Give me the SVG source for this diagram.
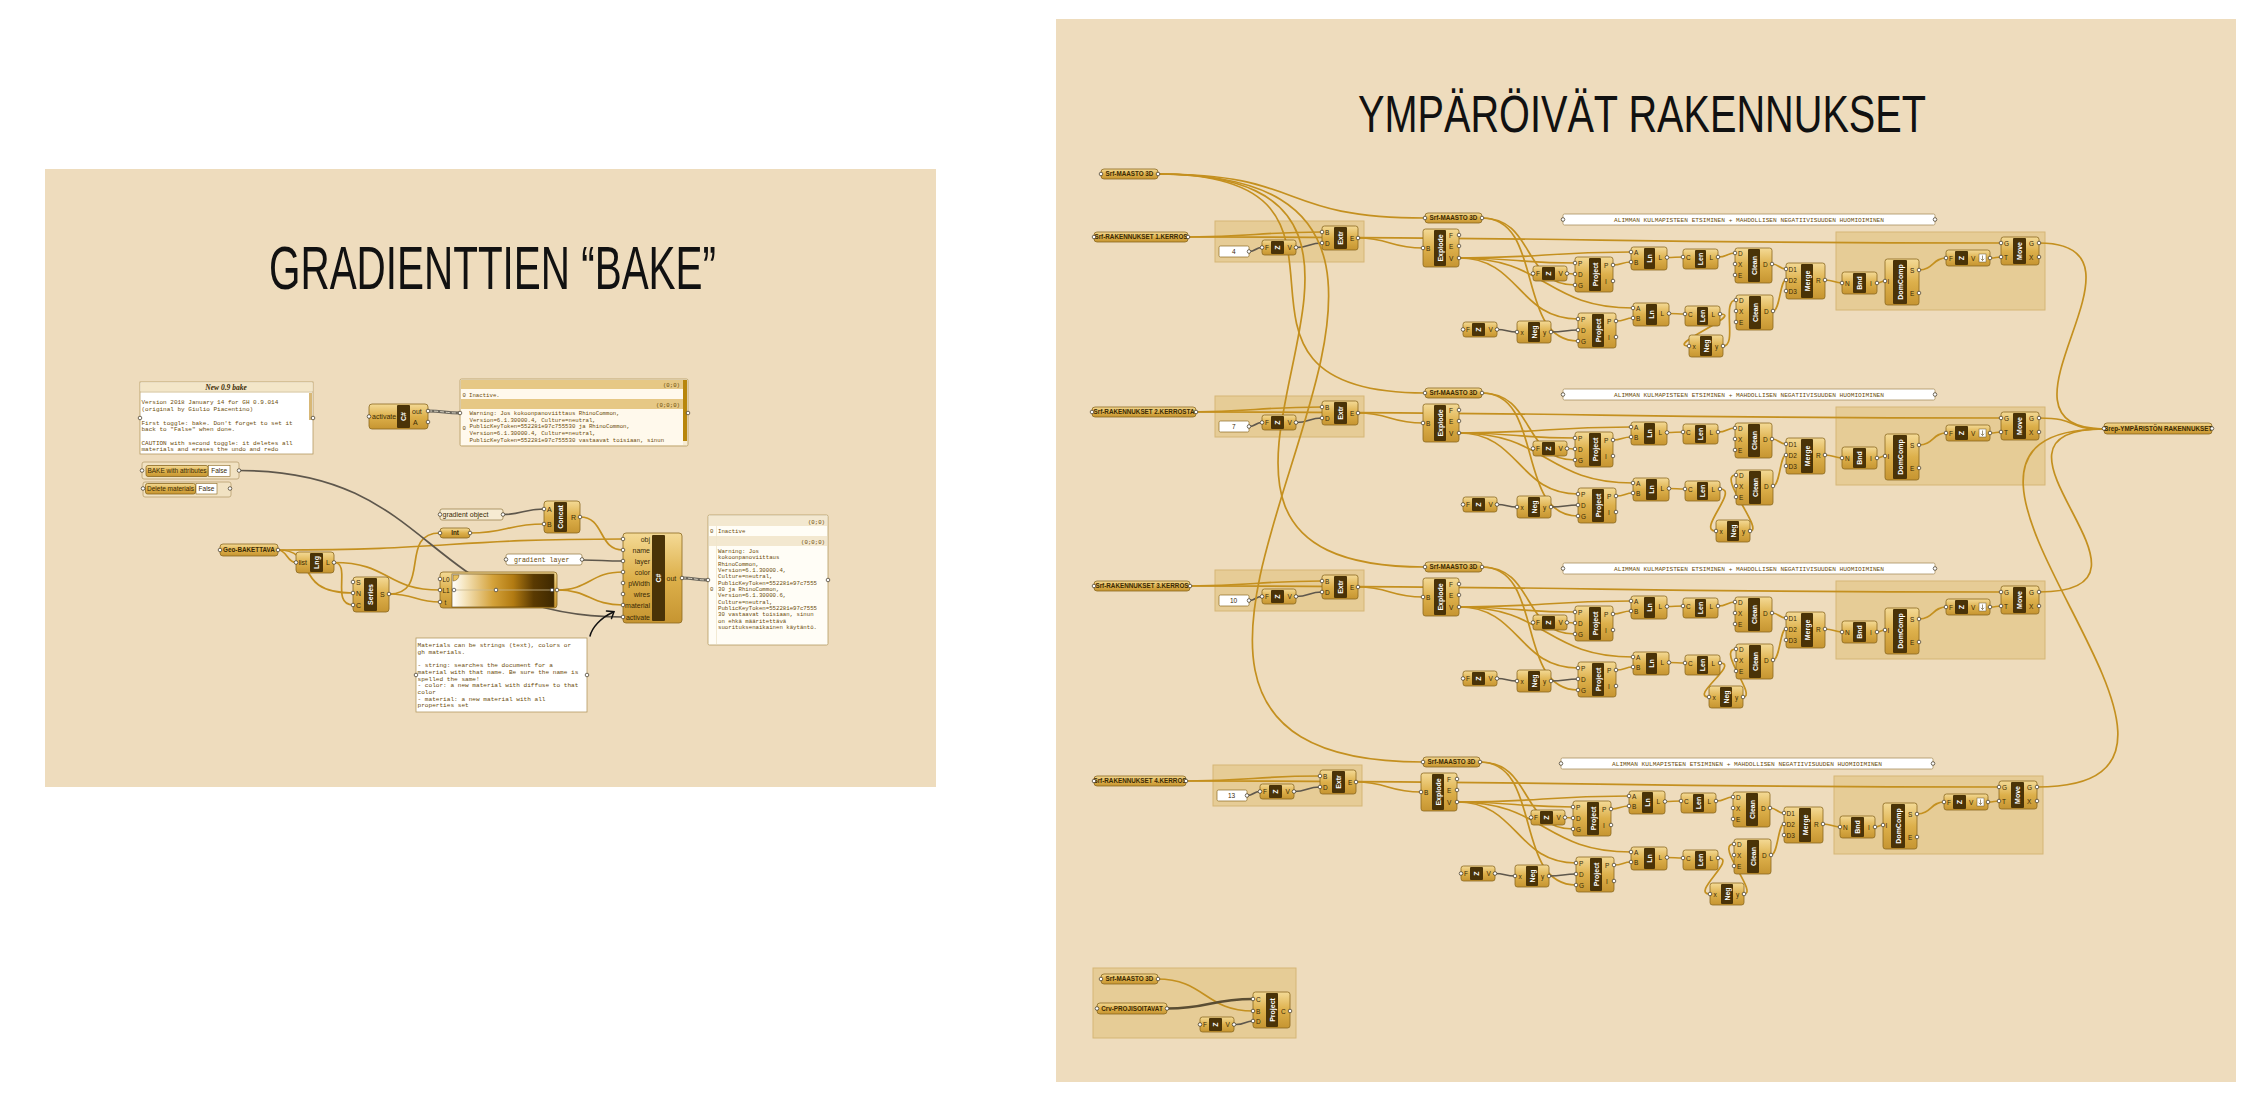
<svg xmlns="http://www.w3.org/2000/svg" xmlns:xlink="http://www.w3.org/1999/xlink" width="2259" height="1102" viewBox="0 0 2259 1102">
<style>
.bd{fill:url(#gB);stroke:#8A6820;stroke-width:.8}
.bn{fill:#4A3307}
.vn{font-family:"Liberation Sans",Arial,sans-serif;font-weight:700;font-size:7px;fill:#fff;text-anchor:middle}
.pl{font-family:"Liberation Sans",Arial,sans-serif;font-size:6.5px;fill:#3A2A05}
.pl2{font-family:"Liberation Sans",Arial,sans-serif;font-size:7px;fill:#3A2A05}
.pt{fill:#fff;stroke:#3A3020;stroke-width:.7}
.pn{font-family:"Liberation Sans",Arial,sans-serif;font-weight:700;font-size:6.3px;fill:#3A2A05;text-anchor:middle}
.w{fill:none;stroke:#C4901F;stroke-width:1.7}
.wd{fill:none;stroke:#5E574C;stroke-width:1.7}
.grp{fill:#E2C486;fill-opacity:.7;stroke:#D5B677;stroke-width:1}
.note{fill:#fff;stroke:#A89060;stroke-width:.8}
.mono{font-family:"Liberation Mono","Courier New",monospace;fill:#6B4C0A}
.ttl{font-family:"Liberation Sans",Arial,sans-serif;fill:#111}
.hdr{fill:#E6C885}
</style>
<defs>
<linearGradient id="gB" x1="0" y1="0" x2="0" y2="1"><stop offset="0" stop-color="#F4DA96"/><stop offset=".5" stop-color="#DDB04B"/><stop offset="1" stop-color="#C69531"/></linearGradient>
<linearGradient id="gGrad" x1="0" y1="0" x2="1" y2="0"><stop offset="0" stop-color="#FFFFFF"/><stop offset=".12" stop-color="#F6E6C0"/><stop offset=".4" stop-color="#D4A23A"/><stop offset=".6" stop-color="#B27B12"/><stop offset=".8" stop-color="#5A3A02"/><stop offset="1" stop-color="#3E2800"/></linearGradient>
<g id="cZ"><rect class="bd" width="34" height="15" rx="2.5"/><rect class="bn" x="9" y="1" width="13" height="13" rx="1"/><text class="vn" transform="translate(15.5 7.5) rotate(-90)" dy="2.5">Z</text><text class="pl" x="3" y="10">F</text><text class="pl" x="25.5" y="10">V</text><circle class="pt" cx="0" cy="7.5" r="1.8"/><circle class="pt" cx="34" cy="7.5" r="1.8"/></g>
<g id="cZf"><rect class="bd" width="44" height="16" rx="2.5"/><rect class="bn" x="9" y="1" width="13" height="14" rx="1"/><text class="vn" transform="translate(15.5 8) rotate(-90)" dy="2.5">Z</text><text class="pl" x="3" y="10.5">F</text><text class="pl" x="25" y="10.5">V</text><rect x="33" y="4" width="7" height="8" fill="#fff" stroke="#6B5A30" stroke-width=".5"/><path d="M36.5 5.5v5M34.8 8.8l1.7 1.7 1.7-1.7" fill="none" stroke="#5A4A20" stroke-width=".6"/><circle class="pt" cx="0" cy="8" r="1.8"/><circle class="pt" cx="44" cy="8" r="1.8"/></g>
<g id="cExtr"><rect class="bd" width="36" height="24" rx="2.5"/><rect class="bn" x="12" y="1" width="13" height="22" rx="1"/><text class="vn" transform="translate(18.5 12) rotate(-90)" dy="2.5">Extr</text><text class="pl" x="3" y="8.5">B</text><text class="pl" x="3" y="19.5">D</text><text class="pl" x="28" y="14.5">E</text><circle class="pt" cx="0" cy="6" r="1.8"/><circle class="pt" cx="0" cy="17" r="1.8"/><circle class="pt" cx="36" cy="12" r="1.8"/></g>
<g id="cExplode"><rect class="bd" width="36" height="38" rx="2.5"/><rect class="bn" x="11" y="1" width="12" height="36" rx="1"/><text class="vn" transform="translate(17 19) rotate(-90)" dy="2.5">Explode</text><text class="pl" x="3" y="21.5">B</text><text class="pl" x="26" y="8.5">F</text><text class="pl" x="26" y="19.5">E</text><text class="pl" x="26" y="31.5">V</text><circle class="pt" cx="0" cy="19" r="1.8"/><circle class="pt" cx="36" cy="6" r="1.8"/><circle class="pt" cx="36" cy="17" r="1.8"/><circle class="pt" cx="36" cy="29" r="1.8"/></g>
<g id="cProj"><rect class="bd" width="38" height="35" rx="2.5"/><rect class="bn" x="14" y="1" width="12" height="33" rx="1"/><text class="vn" transform="translate(20 17.5) rotate(-90)" dy="2.5">Project</text><text class="pl" x="3" y="8.5">P</text><text class="pl" x="3" y="19.5">D</text><text class="pl" x="3" y="30.5">G</text><text class="pl" x="29" y="10.5">P</text><text class="pl" x="30" y="26.5">I</text><circle class="pt" cx="0" cy="6" r="1.8"/><circle class="pt" cx="0" cy="17" r="1.8"/><circle class="pt" cx="0" cy="28" r="1.8"/><circle class="pt" cx="38" cy="8" r="1.8"/><circle class="pt" cx="38" cy="24" r="1.8"/></g>
<g id="cLn"><rect class="bd" width="36" height="23" rx="2.5"/><rect class="bn" x="13" y="1" width="11" height="21" rx="1"/><text class="vn" transform="translate(18.5 11.5) rotate(-90)" dy="2.5">Ln</text><text class="pl" x="3" y="7.5">A</text><text class="pl" x="3" y="17.5">B</text><text class="pl" x="27.5" y="13">L</text><circle class="pt" cx="0" cy="5" r="1.8"/><circle class="pt" cx="0" cy="15" r="1.8"/><circle class="pt" cx="36" cy="10.5" r="1.8"/></g>
<g id="cLen"><rect class="bd" width="35" height="20" rx="2.5"/><rect class="bn" x="12" y="1" width="11" height="18" rx="1"/><text class="vn" transform="translate(17.5 10) rotate(-90)" dy="2.5">Len</text><text class="pl" x="3" y="10.5">C</text><text class="pl" x="26.5" y="10.5">L</text><circle class="pt" cx="0" cy="8" r="1.8"/><circle class="pt" cx="35" cy="8" r="1.8"/></g>
<g id="cClean"><rect class="bd" width="37" height="35" rx="2.5"/><rect class="bn" x="13" y="1" width="12" height="33" rx="1"/><text class="vn" transform="translate(19 17.5) rotate(-90)" dy="2.5">Clean</text><text class="pl" x="3" y="7.5">D</text><text class="pl" x="3" y="18.5">X</text><text class="pl" x="3" y="29.5">E</text><text class="pl" x="28" y="18.5">D</text><circle class="pt" cx="0" cy="5" r="1.8"/><circle class="pt" cx="0" cy="16" r="1.8"/><circle class="pt" cx="0" cy="27" r="1.8"/><circle class="pt" cx="37" cy="16" r="1.8"/></g>
<g id="cMerge"><rect class="bd" width="39" height="36" rx="2.5"/><rect class="bn" x="15" y="1" width="12" height="34" rx="1"/><text class="vn" transform="translate(21 18) rotate(-90)" dy="2.5">Merge</text><text class="pl" x="2.5" y="8.5">D1</text><text class="pl" x="2.5" y="19.5">D2</text><text class="pl" x="2.5" y="30.5">D3</text><text class="pl" x="30" y="19.5">R</text><circle class="pt" cx="0" cy="6" r="1.8"/><circle class="pt" cx="0" cy="17" r="1.8"/><circle class="pt" cx="0" cy="28" r="1.8"/><circle class="pt" cx="39" cy="17" r="1.8"/></g>
<g id="cNeg"><rect class="bd" width="34" height="22" rx="2.5"/><rect class="bn" x="11" y="1" width="12" height="20" rx="1"/><text class="vn" transform="translate(17 11) rotate(-90)" dy="2.5">Neg</text><text class="pl" x="3.5" y="13.5">x</text><text class="pl" x="26" y="13.5">y</text><circle class="pt" cx="0" cy="11" r="1.8"/><circle class="pt" cx="34" cy="11" r="1.8"/></g>
<g id="cBnd"><rect class="bd" width="35" height="22" rx="2.5"/><rect class="bn" x="11" y="1" width="13" height="20" rx="1"/><text class="vn" transform="translate(17.5 11) rotate(-90)" dy="2.5">Bnd</text><text class="pl" x="3" y="13.5">N</text><text class="pl" x="28" y="13.5">I</text><circle class="pt" cx="0" cy="11" r="1.8"/><circle class="pt" cx="35" cy="11" r="1.8"/></g>
<g id="cDom"><rect class="bd" width="34" height="46" rx="2.5"/><rect class="bn" x="8" y="1" width="14" height="44" rx="1"/><text class="vn" transform="translate(15 23) rotate(-90)" dy="2.5">DomComp</text><text class="pl" x="2.5" y="24.5">I</text><text class="pl" x="25" y="13.5">S</text><text class="pl" x="25" y="36.5">E</text><circle class="pt" cx="0" cy="22" r="1.8"/><circle class="pt" cx="34" cy="11" r="1.8"/><circle class="pt" cx="34" cy="34" r="1.8"/></g>
<g id="cMove"><rect class="bd" width="38" height="28" rx="2.5"/><rect class="bn" x="12" y="1" width="13" height="26" rx="1"/><text class="vn" transform="translate(18.5 14) rotate(-90)" dy="2.5">Move</text><text class="pl" x="3" y="8.5">G</text><text class="pl" x="3" y="22.5">T</text><text class="pl" x="28" y="8.5">G</text><text class="pl" x="28" y="22.5">X</text><circle class="pt" cx="0" cy="6" r="1.8"/><circle class="pt" cx="0" cy="20" r="1.8"/><circle class="pt" cx="38" cy="6" r="1.8"/><circle class="pt" cx="38" cy="20" r="1.8"/></g>
<g id="pMaasto"><rect class="bd" width="57" height="10" rx="3"/><text class="pn" x="28.5" y="7.3">Srf-MAASTO 3D</text><circle class="pt" cx="0" cy="5" r="1.8"/><circle class="pt" cx="57" cy="5" r="1.8"/></g>
<g id="nAlim"><rect class="note" width="372" height="11" rx="1.5"/><text class="mono" x="186" y="7.8" font-size="5.9" text-anchor="middle" textLength="270" lengthAdjust="spacingAndGlyphs">ALIMMAN KULMAPISTEEN ETSIMINEN + MAHDOLLISEN NEGATIIVISUUDEN HUOMIOIMINEN</text><circle class="pt" cx="0" cy="5.5" r="1.8"/><circle class="pt" cx="372" cy="5.5" r="1.8"/></g>
<g id="rowW">
<path class="w" d="M1188 237C1255 237 1255 232 1322 232"/>
<path class="w" d="M1188 237C1600 237 1600 243 2001 243"/>
<path class="wd" d="M1249 251.5C1256 251.5 1255 247.5 1262 247.5"/>
<path class="wd" d="M1296 247.5C1309 247.5 1309 243 1322 243"/>
<path class="w" d="M1358 238C1390 238 1390 248 1423 248"/>
<path class="w" d="M1459 258C1545 258 1545 252 1631 252"/>
<path class="w" d="M1459 258C1517 258 1517 263 1575 263"/>
<path class="w" d="M1459 258C1520 258 1518 319 1578 319"/>
<path class="w" d="M1459 258C1546 258 1546 308 1633 308"/>
<path class="w" d="M1482 218C1535 218 1522 285 1575 285"/>
<path class="w" d="M1482 218C1545 218 1515 341 1578 341"/>
<path class="w" d="M1567 273.5C1571 273.5 1571 274 1575 274"/>
<path class="wd" d="M1497 329.5C1507 329.5 1507 332 1517 332"/>
<path class="wd" d="M1551 332C1565 332 1565 330 1578 330"/>
<path class="w" d="M1613 265C1622 265 1622 262 1631 262"/>
<path class="w" d="M1616 321C1625 321 1625 318 1633 318"/>
<path class="w" d="M1667 257.5C1675 257.5 1675 257 1683 257"/>
<path class="w" d="M1669 313.5C1677 313.5 1677 314 1685 314"/>
<path class="w" d="M1718 257C1727 257 1727 253 1735 253"/>
<path class="w" d="M1772 264C1779 264 1779 269 1786 269"/>
<path class="w" d="M1773 311C1780 311 1780 280 1786 280"/>
<path class="w" d="M1825 280C1834 280 1834 283 1842 283"/>
<path class="w" d="M1877 283C1881 283 1881 281 1885 281"/>
<path class="w" d="M1919 270C1933 270 1933 258 1946 258"/>
<path class="w" d="M1990 258C1996 258 1996 257 2001 257"/>
</g>
</defs>

<rect width="2259" height="1102" fill="#fff"/>
<rect id="panel-left" x="45" y="169" width="891" height="618" fill="#EEDCBD"/>
<rect id="panel-right" x="1056" y="19" width="1180" height="1063" fill="#EEDCBD"/>
<text class="ttl" x="269" y="289" font-size="61" textLength="447" lengthAdjust="spacingAndGlyphs">GRADIENTTIEN “BAKE”</text>
<text class="ttl" x="1358" y="132" font-size="52" textLength="568" lengthAdjust="spacingAndGlyphs">YMPÄRÖIVÄT RAKENNUKSET</text>

<g id="gh-groups">
<rect class="grp" x="1215" y="221" width="149" height="41"/>
<rect class="grp" x="1836" y="232" width="209" height="78"/>
<rect class="grp" x="1215" y="396" width="149" height="41"/>
<rect class="grp" x="1836" y="407" width="209" height="78"/>
<rect class="grp" x="1215" y="570" width="149" height="41"/>
<rect class="grp" x="1836" y="581" width="209" height="78"/>
<rect class="grp" x="1213" y="765" width="149" height="41"/>
<rect class="grp" x="1834" y="776" width="209" height="78"/>
<rect class="grp" x="1093" y="968" width="203" height="70"/>
</g>

<g id="connectors">
<g id="wires-left">
<path class="w" d="M278 550C287 550 287 562.5 296 562.5"/>
<path class="w" d="M278 550C450 550 450 539 623 539"/>
<path class="w" d="M278 550C320 550 290 593 353 593"/>
<path class="w" d="M334 562.5C352 562.5 330 605 353 605"/>
<path class="w" d="M334 562.5C390 562.5 385 590 440 590"/>
<path class="w" d="M389 594C415 594 415 602 440 602"/>
<path class="w" d="M389 594C432 594 398 533 440 533"/>
<path class="w" d="M470 533C507 533 507 524 544 524"/>
<path class="wd" d="M503 514.5C523 514.5 523 509 544 509"/>
<path class="w" d="M580 517C605 517 598 550 623 550"/>
<path class="wd" d="M582 560C602 560 602 561 623 561"/>
<path class="w" d="M557 590C590 590 590 572 623 572"/>
<path class="w" d="M557 590C590 590 590 605 623 605"/>
<path class="wd" d="M239 470.5C440 470.5 420 617 623 617"/>
<path d="M428 411C444 411 444 413 460 413" fill="none" stroke="#6A665C" stroke-width="3.2"/>
<path d="M428 411C444 411 444 413 460 413" fill="none" stroke="#D8D2C2" stroke-width="1" stroke-dasharray="4 2"/>
<path d="M682 578C695 578 695 580 708 580" fill="none" stroke="#6A665C" stroke-width="3.2"/>
<path d="M682 578C695 578 695 580 708 580" fill="none" stroke="#D8D2C2" stroke-width="1" stroke-dasharray="4 2"/>
</g>
<g id="wires-row1"><use href="#rowW"/>
<path class="w" d="M1720 314C1745 314 1664 346 1689 346"/>
<path class="w" d="M1723 346C1738 346 1721 300 1736 300"/></g>
<g id="wires-row2" transform="translate(0 175)"><use href="#rowW"/>
<path class="w" d="M1720 314C1740 314 1696 356 1716 356"/>
<path class="w" d="M1750 356C1765 356 1716 300 1736 300"/></g>
<g id="wires-row3" transform="translate(0 349)"><use href="#rowW"/>
<path class="w" d="M1720 314C1740 314 1689 348 1709 348"/>
<path class="w" d="M1743 348C1758 348 1716 300 1736 300"/></g>
<g id="wires-row4" transform="translate(-2 544)"><use href="#rowW"/>
<path class="w" d="M1720 314C1740 314 1692 350 1712 350"/>
<path class="w" d="M1746 350C1761 350 1716 300 1736 300"/></g>
<g id="wires-global">
<path class="w" d="M1158 174C1308 174 1275 218 1425 218"/>
<path class="w" d="M1158 174C1408 174 1175 393 1425 393"/>
<path class="w" d="M1158 174C1508 174 1075 567 1425 567"/>
<path class="w" d="M1158 174C1608 174 973 762 1423 762"/>
<path class="w" d="M2039 243C2169 243 1974 429 2104 429"/>
<path class="w" d="M2039 418C2080 418 2064 429 2104 429"/>
<path class="w" d="M2039 592C2189 592 1954 429 2104 429"/>
<path class="w" d="M2037 787C2287 787 1854 429 2104 429"/>
</g>
<g id="wires-bottom">
<path class="w" d="M1157 979C1205 979 1205 1011 1253 1011"/>
<path d="M1167 1008.5C1210 1008.5 1210 999 1253 999" fill="none" stroke="#5A4D33" stroke-width="2.6"/>
<path class="wd" d="M1236 1024.5C1245 1024.5 1245 1021 1253 1021"/>
</g>
</g>

<g id="nodes-left">
<g id="note-bake">
<rect x="140" y="382" width="173" height="72" fill="#fff" stroke="#B39A62" stroke-width=".8"/>
<rect x="140.5" y="382.5" width="172" height="9" fill="#F3E6C8"/>
<line x1="140" y1="392" x2="313" y2="392" stroke="#C8B07A" stroke-width=".8"/>
<text x="226" y="390" font-family="Liberation Serif" font-style="italic" font-weight="700" font-size="7.5" text-anchor="middle" fill="#3A2A05">New 0.9 bake</text>
<g class="mono" font-size="6">
<text x="141.5" y="404">Version 2018 January 14 for GH 0.9.014</text>
<text x="141.5" y="410.7">(original by Giulio Piacentino)</text>
<text x="141.5" y="424.5">First toggle: bake. Don't forget to set it</text>
<text x="141.5" y="431.2">back to "False" when done.</text>
<text x="141.5" y="444.5">CAUTION with second toggle: it deletes all</text>
<text x="141.5" y="451.2">materials and erases the undo and redo</text>
</g>
<rect x="309" y="393" width="3" height="27" fill="#D8B877"/>
<circle class="pt" cx="140" cy="418" r="1.8"/><circle class="pt" cx="313" cy="418" r="1.8"/>
</g>
<g id="toggle-bake">
<rect x="142" y="462" width="97" height="17" rx="2" fill="#F1E2C2" stroke="#B8A070" stroke-width=".8"/>
<rect x="146" y="465.5" width="62" height="11" rx="2" class="bd"/>
<text class="pl" x="177" y="473.3" text-anchor="middle">BAKE with attributes</text>
<rect x="208.5" y="465.5" width="21.5" height="11" fill="#fff" stroke="#8A6820" stroke-width=".6"/>
<text class="pl" x="219.2" y="473.3" text-anchor="middle">False</text>
<circle class="pt" cx="142" cy="470.5" r="1.8"/><circle class="pt" cx="239" cy="470.5" r="1.8"/>
</g>
<g id="toggle-delete">
<rect x="143" y="482" width="88" height="15" rx="2" fill="#F1E2C2" stroke="#B8A070" stroke-width=".8"/>
<rect x="145.5" y="483.5" width="50" height="10.5" rx="2" class="bd"/>
<text class="pl" x="170.5" y="491" text-anchor="middle">Delete materials</text>
<rect x="196" y="483.5" width="21" height="10.5" fill="#fff" stroke="#8A6820" stroke-width=".6"/>
<text class="pl" x="206.5" y="491" text-anchor="middle">False</text>
<circle class="pt" cx="143" cy="488.5" r="1.8"/><circle class="pt" cx="230" cy="488.5" r="1.8"/>
</g>
<g id="cs-activate">
<rect x="369" y="404" width="59" height="25" rx="3" class="bd"/>
<rect x="397" y="405" width="13" height="23" rx="1" class="bn"/>
<text class="vn" transform="translate(403.5 416.5) rotate(-90)" dy="2.5">C#</text>
<text class="pl2" x="372" y="419">activate</text>
<text class="pl2" x="412" y="413.5">out</text>
<text class="pl2" x="413" y="424.5">A</text>
<circle class="pt" cx="369" cy="416.5" r="1.8"/><circle class="pt" cx="428" cy="411" r="1.8"/><circle class="pt" cx="428" cy="422" r="1.8"/>
</g>
<g id="panel-warning">
<rect x="460" y="379" width="228" height="67" rx="1.5" fill="#F7ECD3" stroke="#B39A62" stroke-width=".8"/>
<rect class="hdr" x="461" y="380" width="222" height="9"/>
<rect x="461" y="389" width="222" height="10" fill="#FFF9EC"/>
<rect class="hdr" x="461" y="399" width="222" height="10"/>
<rect x="461" y="409" width="222" height="36" fill="#FFF9EC"/>
<rect x="683" y="380" width="4" height="61" fill="#B8860B"/>
<g class="mono" font-size="5.7">
<text x="680" y="387" text-anchor="end">(0;0)</text>
<text x="462.5" y="396.5">0</text><text x="469" y="396.5">Inactive.</text>
<text x="680" y="406.5" text-anchor="end">(0;0;0)</text>
<text x="469.5" y="415">Warning: Jos kokoonpanoviittaus RhinoCommon,</text>
<text x="469.5" y="421.7">Version=6.1.30000.4, Culture=neutral,</text>
<text x="462.5" y="430">0</text>
<text x="469.5" y="428.4">PublicKeyToken=552281e97c755530 ja RhinoCommon,</text>
<text x="469.5" y="435.1">Version=6.1.30000.4, Culture=neutral,</text>
<text x="469.5" y="441.8">PublicKeyToken=552281e97c755530 vastaavat toisiaan, sinun</text>
</g>
<circle class="pt" cx="460" cy="413" r="1.8"/><circle class="pt" cx="688" cy="413" r="1.8"/>
</g>
<g id="param-gradobj">
<rect x="440" y="509" width="63" height="11" rx="2" fill="#F6EBD2" stroke="#9C8450" stroke-width=".8"/>
<text class="pl2" x="442.5" y="517.3">gradient object</text>
<circle class="pt" cx="440" cy="514.5" r="1.8"/><circle class="pt" cx="503" cy="514.5" r="1.8"/>
</g>
<g id="param-int">
<rect x="440" y="528" width="30" height="10" rx="3" class="bd"/>
<text class="pn" x="455" y="535.3">Int</text>
<circle class="pt" cx="440" cy="533" r="1.8"/><circle class="pt" cx="470" cy="533" r="1.8"/>
</g>
<g id="param-geo">
<rect x="220" y="544" width="58" height="12" rx="3" class="bd"/>
<text class="pn" x="249" y="552.3">Geo-BAKETTAVA</text>
<circle class="pt" cx="220" cy="550" r="1.8"/><circle class="pt" cx="278" cy="550" r="1.8"/>
</g>
<g id="list-length">
<rect x="296" y="552" width="38" height="21" rx="3" class="bd"/>
<rect x="310" y="553" width="13" height="19" rx="1" class="bn"/>
<text class="vn" transform="translate(316.5 562.5) rotate(-90)" dy="2.5">Lng</text>
<text class="pl2" x="298.5" y="565">list</text>
<text class="pl2" x="326" y="565">L</text>
<circle class="pt" cx="296" cy="562.5" r="1.8"/><circle class="pt" cx="334" cy="562.5" r="1.8"/>
</g>
<g id="series">
<rect x="353" y="577" width="36" height="35" rx="3" class="bd"/>
<rect x="364" y="578" width="13" height="33" rx="1" class="bn"/>
<text class="vn" transform="translate(370.5 594.5) rotate(-90)" dy="2.5">Series</text>
<text class="pl2" x="356" y="584.5">S</text><text class="pl2" x="356" y="595.5">N</text><text class="pl2" x="356" y="607.5">C</text>
<text class="pl2" x="380" y="596.5">S</text>
<circle class="pt" cx="353" cy="582" r="1.8"/><circle class="pt" cx="353" cy="593" r="1.8"/><circle class="pt" cx="353" cy="605" r="1.8"/><circle class="pt" cx="389" cy="594" r="1.8"/>
</g>
<g id="gradient">
<rect x="440" y="572" width="117" height="36" rx="3" class="bd"/>
<rect x="452" y="574" width="102" height="33" fill="url(#gGrad)" stroke="#5A4010" stroke-width=".6"/>
<path d="M453 575h6a6 6 0 0 1-6 6z" fill="#E8C060" stroke="#6A5020" stroke-width=".5"/>
<line x1="454" y1="590" x2="552" y2="590" stroke="#C8B890" stroke-width=".8"/>
<circle cx="454" cy="590" r="1.8" fill="#fff" stroke="#333" stroke-width=".7"/><circle cx="496" cy="590" r="1.8" fill="#fff" stroke="#333" stroke-width=".7"/><circle cx="552" cy="590" r="1.8" fill="#fff" stroke="#333" stroke-width=".7"/>
<text class="pl" x="442.5" y="581.5">L0</text><text class="pl" x="442.5" y="592.5">L1</text><text class="pl" x="444.5" y="604.5">t</text>
<circle class="pt" cx="440" cy="579" r="1.8"/><circle class="pt" cx="440" cy="590" r="1.8"/><circle class="pt" cx="440" cy="602" r="1.8"/><circle class="pt" cx="557" cy="590" r="1.8"/>
</g>
<g id="concat">
<rect x="544" y="501" width="36" height="32" rx="3" class="bd"/>
<rect x="554" y="502" width="13" height="30" rx="1" class="bn"/>
<text class="vn" transform="translate(560.5 517) rotate(-90)" dy="2.5">Concat</text>
<text class="pl2" x="547" y="511.5">A</text><text class="pl2" x="547" y="526.5">B</text><text class="pl2" x="571" y="519.5">R</text>
<circle class="pt" cx="544" cy="509" r="1.8"/><circle class="pt" cx="544" cy="524" r="1.8"/><circle class="pt" cx="580" cy="517" r="1.8"/>
</g>
<g id="panel-gradlayer">
<rect x="506" y="554" width="76" height="11" rx="2" fill="#fff" stroke="#9C8450" stroke-width=".8"/>
<text class="mono" x="514" y="562" font-size="6.6">gradient layer</text>
<circle class="pt" cx="506" cy="559.5" r="1.8"/><circle class="pt" cx="582" cy="559.5" r="1.8"/>
</g>
<g id="cs-main">
<rect x="623" y="533" width="59" height="90" rx="3" class="bd"/>
<rect x="652" y="535" width="13" height="86" rx="1" class="bn"/>
<text class="vn" transform="translate(658.5 578) rotate(-90)" dy="2.5">C#</text>
<g class="pl2" text-anchor="end">
<text x="650" y="541.5">obj</text><text x="650" y="552.5">name</text><text x="650" y="563.5">layer</text><text x="650" y="574.5">color</text><text x="650" y="585.5">pWidth</text><text x="650" y="596.5">wires</text><text x="650" y="607.5">material</text><text x="650" y="619.5">activate</text>
</g>
<text class="pl2" x="666.5" y="580.5">out</text>
<circle class="pt" cx="623" cy="539" r="1.8"/><circle class="pt" cx="623" cy="550" r="1.8"/><circle class="pt" cx="623" cy="561" r="1.8"/><circle class="pt" cx="623" cy="572" r="1.8"/><circle class="pt" cx="623" cy="583" r="1.8"/><circle class="pt" cx="623" cy="594" r="1.8"/><circle class="pt" cx="623" cy="605" r="1.8"/><circle class="pt" cx="623" cy="617" r="1.8"/><circle class="pt" cx="682" cy="578" r="1.8"/>
</g>
<g id="panel-result">
<rect x="708" y="515" width="120" height="130" rx="1.5" fill="#FFFDF6" stroke="#B39A62" stroke-width=".8"/>
<rect x="709" y="516" width="118" height="10" fill="#F3E8D0"/>
<rect x="709" y="536" width="118" height="10" fill="#F3E8D0"/>
<line x1="716.5" y1="526" x2="716.5" y2="644" stroke="#EFE4CC" stroke-width=".8"/>
<g class="mono" font-size="5.7">
<text x="825" y="523.5" text-anchor="end">(0;0)</text>
<text x="710" y="532.5">0</text><text x="718" y="532.5">Inactive</text>
<text x="825" y="543.5" text-anchor="end">(0;0;0)</text>
<text x="718" y="553">Warning: Jos</text>
<text x="718" y="559.3">kokoonpanoviittaus</text>
<text x="718" y="565.7">RhinoCommon,</text>
<text x="718" y="572">Version=6.1.30000.4,</text>
<text x="718" y="578.3">Culture=neutral,</text>
<text x="718" y="584.7">PublicKeyToken=552281e97c7555</text>
<text x="710" y="591">0</text><text x="718" y="591">30 ja RhinoCommon,</text>
<text x="718" y="597.3">Version=6.1.30000.6,</text>
<text x="718" y="603.7">Culture=neutral,</text>
<text x="718" y="610">PublicKeyToken=552281e97c7555</text>
<text x="718" y="616.3">30 vastaavat toisiaan, sinun</text>
<text x="718" y="622.7">on ehkä määritettävä</text>
<text x="718" y="629">suorituksenaikainen käytäntö.</text>
</g>
<circle class="pt" cx="708" cy="580" r="1.8"/><circle class="pt" cx="828" cy="580" r="1.8"/>
</g>
<g id="note-materials">
<rect x="416" y="638" width="171" height="74" fill="#fff" stroke="#B39A62" stroke-width=".8"/>
<g class="mono" font-size="6.1">
<text x="417.5" y="647">Materials can be strings (text), colors or</text>
<text x="417.5" y="653.7">gh materials.</text>
<text x="417.5" y="667.1">- string: searches the document for a</text>
<text x="417.5" y="673.8">material with that name. Be sure the name is</text>
<text x="417.5" y="680.5">spelled the same!</text>
<text x="417.5" y="687.2">- color: a new material with diffuse to that</text>
<text x="417.5" y="693.9">color</text>
<text x="417.5" y="700.6">- material: a new material with all</text>
<text x="417.5" y="707.3">properties set</text>
</g>
<circle class="pt" cx="416" cy="675" r="1.8"/><circle class="pt" cx="587" cy="675" r="1.8"/>
</g>
<g id="hand-arrow" fill="none" stroke="#111" stroke-width="1.5" stroke-linecap="round">
<path d="M590 636C592 628 600 618 613.5 612"/>
<path d="M606.5 611L614 611.7L611.5 618.5"/>
</g>
</g>

<g id="nodes-right">
<g id="top-maasto"><use href="#pMaasto" x="1101" y="169"/></g>
<g id="row1">
<g id="r1-rak"><rect class="bd" x="1094" y="232" width="94" height="10" rx="3"/><text class="pn" x="1141" y="239.3">Srf-RAKENNUKSET 1.KERROS</text><circle class="pt" cx="1094" cy="237" r="1.8"/><circle class="pt" cx="1188" cy="237" r="1.8"/></g>
<g id="r1-slider"><rect x="1219" y="246" width="30" height="11" rx="1.5" fill="#fff" stroke="#8A6820" stroke-width=".7"/><text class="pl" x="1232" y="254">4</text><circle class="pt" cx="1249" cy="251.5" r="1.8"/></g>
<g id="r1-z"><use href="#cZ" x="1262" y="240"/></g>
<g id="r1-extr"><use href="#cExtr" x="1322" y="226"/></g>
<g id="r1-maasto"><use href="#pMaasto" x="1425" y="213"/></g>
<g id="r1-explode"><use href="#cExplode" x="1423" y="229"/></g>
<g id="r1-note"><use href="#nAlim" x="1563" y="214"/></g>
<g id="r1-zu"><use href="#cZ" x="1533" y="266"/></g>
<g id="r1-proj1"><use href="#cProj" x="1575" y="257"/></g>
<g id="r1-ln1"><use href="#cLn" x="1631" y="247"/></g>
<g id="r1-len1"><use href="#cLen" x="1683" y="249"/></g>
<g id="r1-clean1"><use href="#cClean" x="1735" y="248"/></g>
<g id="r1-merge"><use href="#cMerge" x="1786" y="263"/></g>
<g id="r1-zl"><use href="#cZ" x="1463" y="322"/></g>
<g id="r1-neg1"><use href="#cNeg" x="1517" y="321"/></g>
<g id="r1-proj2"><use href="#cProj" x="1578" y="313"/></g>
<g id="r1-ln2"><use href="#cLn" x="1633" y="303"/></g>
<g id="r1-len2"><use href="#cLen" x="1685" y="306"/></g>
<g id="r1-clean2"><use href="#cClean" x="1736" y="295"/></g>
<g id="r1-neg2"><use href="#cNeg" x="1689" y="335"/></g>
<g id="r1-bnd"><use href="#cBnd" x="1842" y="272"/></g>
<g id="r1-dom"><use href="#cDom" x="1885" y="259"/></g>
<g id="r1-zf"><use href="#cZf" x="1946" y="250"/></g>
<g id="r1-move"><use href="#cMove" x="2001" y="237"/></g>
</g>
<g id="row2" transform="translate(0 175)">
<g id="r2-rak"><rect class="bd" x="1092" y="232" width="104" height="10" rx="3"/><text class="pn" x="1144" y="239.3">Srf-RAKENNUKSET 2.KERROSTA</text><circle class="pt" cx="1092" cy="237" r="1.8"/><circle class="pt" cx="1196" cy="237" r="1.8"/></g>
<g id="r2-slider"><rect x="1219" y="246" width="30" height="11" rx="1.5" fill="#fff" stroke="#8A6820" stroke-width=".7"/><text class="pl" x="1232" y="254">7</text><circle class="pt" cx="1249" cy="251.5" r="1.8"/></g>
<g id="r2-z"><use href="#cZ" x="1262" y="240"/></g>
<g id="r2-extr"><use href="#cExtr" x="1322" y="226"/></g>
<g id="r2-maasto"><use href="#pMaasto" x="1425" y="213"/></g>
<g id="r2-explode"><use href="#cExplode" x="1423" y="229"/></g>
<g id="r2-note"><use href="#nAlim" x="1563" y="214"/></g>
<g id="r2-zu"><use href="#cZ" x="1533" y="266"/></g>
<g id="r2-proj1"><use href="#cProj" x="1575" y="257"/></g>
<g id="r2-ln1"><use href="#cLn" x="1631" y="247"/></g>
<g id="r2-len1"><use href="#cLen" x="1683" y="249"/></g>
<g id="r2-clean1"><use href="#cClean" x="1735" y="248"/></g>
<g id="r2-merge"><use href="#cMerge" x="1786" y="263"/></g>
<g id="r2-zl"><use href="#cZ" x="1463" y="322"/></g>
<g id="r2-neg1"><use href="#cNeg" x="1517" y="321"/></g>
<g id="r2-proj2"><use href="#cProj" x="1578" y="313"/></g>
<g id="r2-ln2"><use href="#cLn" x="1633" y="303"/></g>
<g id="r2-len2"><use href="#cLen" x="1685" y="306"/></g>
<g id="r2-clean2"><use href="#cClean" x="1736" y="295"/></g>
<g id="r2-neg2"><use href="#cNeg" x="1716" y="345"/></g>
<g id="r2-bnd"><use href="#cBnd" x="1842" y="272"/></g>
<g id="r2-dom"><use href="#cDom" x="1885" y="259"/></g>
<g id="r2-zf"><use href="#cZf" x="1946" y="250"/></g>
<g id="r2-move"><use href="#cMove" x="2001" y="237"/></g>
</g>
<g id="row3" transform="translate(0 349)">
<g id="r3-rak"><rect class="bd" x="1094" y="232" width="96" height="10" rx="3"/><text class="pn" x="1142" y="239.3">Srf-RAKENNUKSET 3.KERROS</text><circle class="pt" cx="1094" cy="237" r="1.8"/><circle class="pt" cx="1190" cy="237" r="1.8"/></g>
<g id="r3-slider"><rect x="1219" y="246" width="30" height="11" rx="1.5" fill="#fff" stroke="#8A6820" stroke-width=".7"/><text class="pl" x="1230" y="254">10</text><circle class="pt" cx="1249" cy="251.5" r="1.8"/></g>
<g id="r3-z"><use href="#cZ" x="1262" y="240"/></g>
<g id="r3-extr"><use href="#cExtr" x="1322" y="226"/></g>
<g id="r3-maasto"><use href="#pMaasto" x="1425" y="213"/></g>
<g id="r3-explode"><use href="#cExplode" x="1423" y="229"/></g>
<g id="r3-note"><use href="#nAlim" x="1563" y="214"/></g>
<g id="r3-zu"><use href="#cZ" x="1533" y="266"/></g>
<g id="r3-proj1"><use href="#cProj" x="1575" y="257"/></g>
<g id="r3-ln1"><use href="#cLn" x="1631" y="247"/></g>
<g id="r3-len1"><use href="#cLen" x="1683" y="249"/></g>
<g id="r3-clean1"><use href="#cClean" x="1735" y="248"/></g>
<g id="r3-merge"><use href="#cMerge" x="1786" y="263"/></g>
<g id="r3-zl"><use href="#cZ" x="1463" y="322"/></g>
<g id="r3-neg1"><use href="#cNeg" x="1517" y="321"/></g>
<g id="r3-proj2"><use href="#cProj" x="1578" y="313"/></g>
<g id="r3-ln2"><use href="#cLn" x="1633" y="303"/></g>
<g id="r3-len2"><use href="#cLen" x="1685" y="306"/></g>
<g id="r3-clean2"><use href="#cClean" x="1736" y="295"/></g>
<g id="r3-neg2"><use href="#cNeg" x="1709" y="337"/></g>
<g id="r3-bnd"><use href="#cBnd" x="1842" y="272"/></g>
<g id="r3-dom"><use href="#cDom" x="1885" y="259"/></g>
<g id="r3-zf"><use href="#cZf" x="1946" y="250"/></g>
<g id="r3-move"><use href="#cMove" x="2001" y="237"/></g>
</g>
<g id="row4" transform="translate(-2 544)">
<g id="r4-rak"><rect class="bd" x="1096" y="232" width="92" height="10" rx="3"/><text class="pn" x="1142" y="239.3">Srf-RAKENNUKSET 4.KERROS</text><circle class="pt" cx="1096" cy="237" r="1.8"/><circle class="pt" cx="1188" cy="237" r="1.8"/></g>
<g id="r4-slider"><rect x="1219" y="246" width="30" height="11" rx="1.5" fill="#fff" stroke="#8A6820" stroke-width=".7"/><text class="pl" x="1230" y="254">13</text><circle class="pt" cx="1249" cy="251.5" r="1.8"/></g>
<g id="r4-z"><use href="#cZ" x="1262" y="240"/></g>
<g id="r4-extr"><use href="#cExtr" x="1322" y="226"/></g>
<g id="r4-maasto"><use href="#pMaasto" x="1425" y="213"/></g>
<g id="r4-explode"><use href="#cExplode" x="1423" y="229"/></g>
<g id="r4-note"><use href="#nAlim" x="1563" y="214"/></g>
<g id="r4-zu"><use href="#cZ" x="1533" y="266"/></g>
<g id="r4-proj1"><use href="#cProj" x="1575" y="257"/></g>
<g id="r4-ln1"><use href="#cLn" x="1631" y="247"/></g>
<g id="r4-len1"><use href="#cLen" x="1683" y="249"/></g>
<g id="r4-clean1"><use href="#cClean" x="1735" y="248"/></g>
<g id="r4-merge"><use href="#cMerge" x="1786" y="263"/></g>
<g id="r4-zl"><use href="#cZ" x="1463" y="322"/></g>
<g id="r4-neg1"><use href="#cNeg" x="1517" y="321"/></g>
<g id="r4-proj2"><use href="#cProj" x="1578" y="313"/></g>
<g id="r4-ln2"><use href="#cLn" x="1633" y="303"/></g>
<g id="r4-len2"><use href="#cLen" x="1685" y="306"/></g>
<g id="r4-clean2"><use href="#cClean" x="1736" y="295"/></g>
<g id="r4-neg2"><use href="#cNeg" x="1712" y="339"/></g>
<g id="r4-bnd"><use href="#cBnd" x="1842" y="272"/></g>
<g id="r4-dom"><use href="#cDom" x="1885" y="259"/></g>
<g id="r4-zf"><use href="#cZf" x="1946" y="250"/></g>
<g id="r4-move"><use href="#cMove" x="2001" y="237"/></g>
</g>
<g id="brep-out"><rect class="bd" x="2104" y="423" width="108" height="11" rx="3"/><text class="pn" x="2158" y="430.8">Brep-YMPÄRISTÖN RAKENNUKSET</text><circle class="pt" cx="2104" cy="428.5" r="1.8"/><circle class="pt" cx="2212" cy="428.5" r="1.8"/></g>
<g id="b-maasto"><use href="#pMaasto" x="1101" y="974"/></g>
<g id="b-crv"><rect class="bd" x="1097" y="1003" width="70" height="11" rx="3"/><text class="pn" x="1132" y="1010.5">Crv-PROJISOITAVAT</text><circle class="pt" cx="1097" cy="1008.5" r="1.8"/><circle class="pt" cx="1167" cy="1008.5" r="1.8"/></g>
<g id="b-z"><use href="#cZ" x="1200" y="1017"/></g>
<g id="b-proj"><rect class="bd" x="1253" y="992" width="37" height="36" rx="2.5"/><rect class="bn" x="1266" y="993" width="12" height="34" rx="1"/><text class="vn" transform="translate(1272 1010) rotate(-90)" dy="2.5">Project</text><text class="pl" x="1256" y="1001.5">C</text><text class="pl" x="1256" y="1013.5">B</text><text class="pl" x="1256" y="1023.5">D</text><text class="pl" x="1281" y="1013.5">C</text><circle class="pt" cx="1253" cy="999" r="1.8"/><circle class="pt" cx="1253" cy="1011" r="1.8"/><circle class="pt" cx="1253" cy="1021" r="1.8"/><circle class="pt" cx="1290" cy="1011" r="1.8"/></g>
</g>
</svg>
